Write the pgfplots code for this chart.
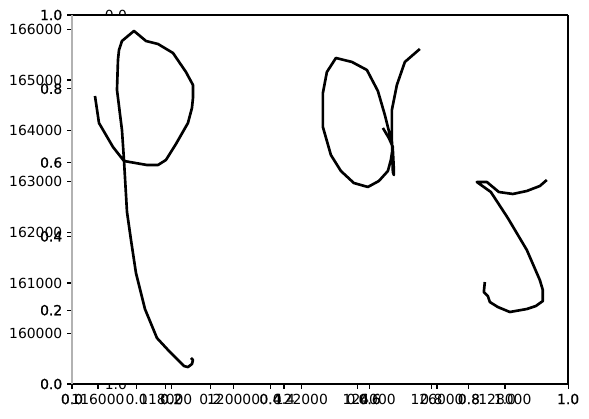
\documentclass[border=0pt]{standalone}
\usepackage{fontspec}
\setmainfont{DejaVu Sans}
\newfontfamily\fbfont[FakeBold=0.8]{DejaVu Sans}
\usepackage{pgfplots}
\pgfplotsset{compat=1.18}
\begin{document}
\begin{tikzpicture}
\pgfplotsset{
  common/.style={
    scale only axis, anchor=south west,
    tick align=outside, major tick length=3.5pt,
    xtick pos=bottom, ytick pos=left,
    every tick/.style={black, line width=0.8pt},
    /pgf/number format/assume math mode=true,
    ticklabel style={font=\fontsize{10}{12}\selectfont},
    scaled ticks=false,
    axis line style={draw=none},
  },
  unitfmt/.style={
    /pgf/number format/fixed, /pgf/number format/fixed zerofill, /pgf/number format/precision=1,
    xmin=0, xmax=1, ymin=0, ymax=1,
    xtick={0,0.2,0.4,0.6,0.8,1}, ytick={0,0.2,0.4,0.6,0.8,1},
  },
}
\path[use as bounding box] (-51.84pt,-24.48pt) rectangle (372.24pt,276.48pt);
% hidden third axes (mostly covered)
\begin{axis}[common, unitfmt, at={(46.58pt,0pt)}, width=265.2pt, height=265.7pt, y dir=reverse]
\addplot[draw=none] coordinates {(0,0)};
\end{axis}
% frame axes 0..1
\begin{axis}[common, unitfmt, at={(0pt,0pt)}, width=357.2pt, height=265.7pt,
  clip=false, ticklabel style={font=\fbfont\fontsize{10}{12}\selectfont},
  axis background/.style={fill=white}]
\addplot[draw=none] coordinates {(0,0)};
\end{axis}
% data axes
\begin{axis}[common, at={(0pt,0pt)}, width=357.2pt, height=265.7pt,
  xmin=115233, xmax=129866, ymin=159009, ymax=166282,
  xtick={116000,118000,120000,122000,124000,126000,128000},
  xticklabels={116000,118000,120000,122000,124000,126000,128000},
  ytick={160000,161000,162000,163000,164000,165000,166000},
  yticklabels={160000,161000,162000,163000,164000,165000,166000}]
\addplot[black, line width=1.9pt, line join=round] coordinates {
(115911,164685) (116029,164153) (116235,163917) (116442,163680) (116766,163404) (117444,163325) (117769,163325) (118004,163424) (118299,163739) (118653,164153) (118771,164449) (118801,164646) (118801,164902) (118594,165158) (118211,165533) (117769,165710) (117415,165769) (117061,165967) (116707,165769) (116619,165592) (116589,165395) (116560,164804) (116707,164015) (116766,163424) (116855,162399) (116973,161847) (117120,161196) (117385,160487) (117739,159915) (118122,159639) (118535,159363) (118653,159343) (118771,159403) (118801,159481) (118742,159521)
};
\addplot[black, line width=1.9pt, line join=round] coordinates {
(124403,164055) (124579,163857) (124697,163680) (124638,163424) (124550,163207) (124285,163010) (123960,162892) (123547,162970) (123164,163207) (122869,163522) (122633,164074) (122633,164744) (122751,165158) (123017,165434) (123489,165356) (123931,165198) (124255,164784) (124461,164311) (124609,163917) (124697,163621) (124727,163227) (124727,163128) (124697,163187) (124668,163818) (124668,164409) (124815,164902) (125051,165356) (125493,165612)
};
\addplot[black, line width=1.9pt, line join=round] coordinates {
(127410,161019) (127380,160822) (127498,160743) (127557,160625) (127793,160526) (128147,160428) (128648,160487) (128914,160546) (129120,160644) (129120,160861) (129032,161058) (128648,161650) (128088,162280) (127587,162793) (127174,162990) (127469,162990) (127823,162793) (128235,162754) (128648,162813) (129032,162911) (129238,163030)
};
\end{axis}
% frame spines
\draw[black, line width=0.9pt] (0pt,265.7pt) -- (357.2pt,265.7pt);
\draw[black, line width=0.9pt] (0pt,0pt) -- (357.2pt,0pt);
\draw[black, line width=1.3pt] (357.0pt,0pt) -- (357.0pt,265.7pt);
\draw[black!30, line width=0.8pt] (0pt,0pt) -- (0pt,265.7pt);
\end{tikzpicture}
\end{document}
